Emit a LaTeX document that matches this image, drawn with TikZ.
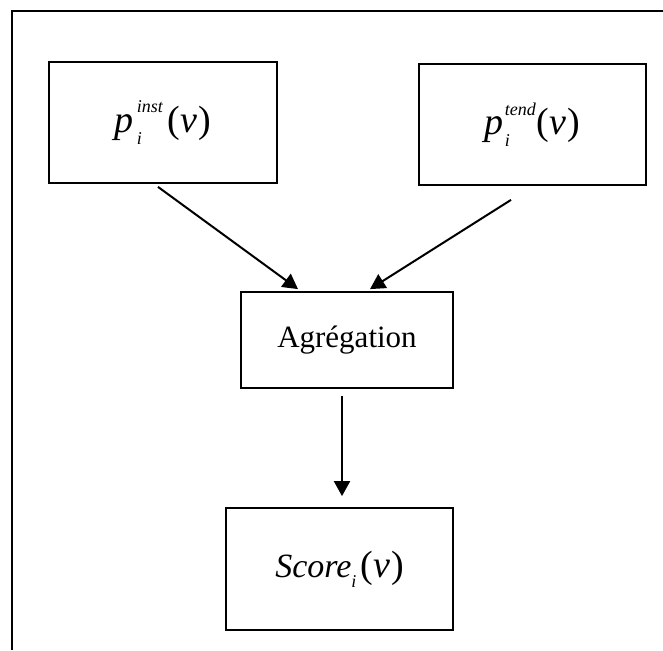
\documentclass[tikz,border=0pt]{standalone}
\usepackage{fontspec}
\setmainfont{Liberation Serif}
\usetikzlibrary{arrows.meta}

\tikzset{
  stagebox/.style={draw, line width=1.8pt, inner sep=0pt, font=\fontsize{31}{36}\selectfont},
  flow/.style={line width=2pt, -{Triangle[length=15pt,width=16pt]}}
}
% formula pieces: italic letter with lowered index and raised exponent
\newcommand{\idx}[2]{\rlap{\raisebox{-0.3em}{\fontsize{18}{20}\selectfont\itshape #1}}%
  \raisebox{0.52em}{\fontsize{18}{20}\selectfont\itshape #2}}
\newcommand{\argv}{{\fontsize{38}{40}\selectfont\upshape(\textit{v}\kern1pt)}}

\begin{document}
\begin{tikzpicture}[x=1pt, y=-1pt]
\useasboundingbox (0,0) rectangle (663,650);

% frame
\draw[line width=1.8pt] (12,650) -- (12,11) -- (663,11);

% boxes
\node[stagebox, minimum width=228pt, minimum height=121pt] (inst) at (163,122.5)
  {\raisebox{7pt}{\fontsize{38}{40}\selectfont\itshape p\kern3pt\idx{i}{inst}\kern5pt\argv}};
\node[stagebox, minimum width=227pt, minimum height=121pt] (tend) at (532.5,124.5)
  {\raisebox{7pt}{\fontsize{38}{40}\selectfont\itshape p\kern1pt\idx{i}{tend}\kern1pt\argv}};
\node[stagebox, minimum width=212pt, minimum height=96pt] (agg) at (347,340)
  {\raisebox{4pt}{Agrégation}};
\node[stagebox, minimum width=227pt, minimum height=122pt] (score) at (339.5,569)
  {\raisebox{5pt}{\fontsize{34}{40}\selectfont\itshape Score\raisebox{-0.3em}{\fontsize{18}{20}\selectfont i}\kern4pt\argv}};

% arrows
\draw[flow] ([xshift=-5pt, yshift=-3pt]inst.south) -- ([xshift=-49pt, yshift=2pt]agg.north);
\draw[flow] ([xshift=-21.5pt, yshift=-14pt]tend.south) -- ([xshift=23pt, yshift=2pt]agg.north);
\draw[flow] ([xshift=-5pt, yshift=-7pt]agg.south) -- ([xshift=2.5pt, yshift=11pt]score.north);
\end{tikzpicture}
\end{document}
